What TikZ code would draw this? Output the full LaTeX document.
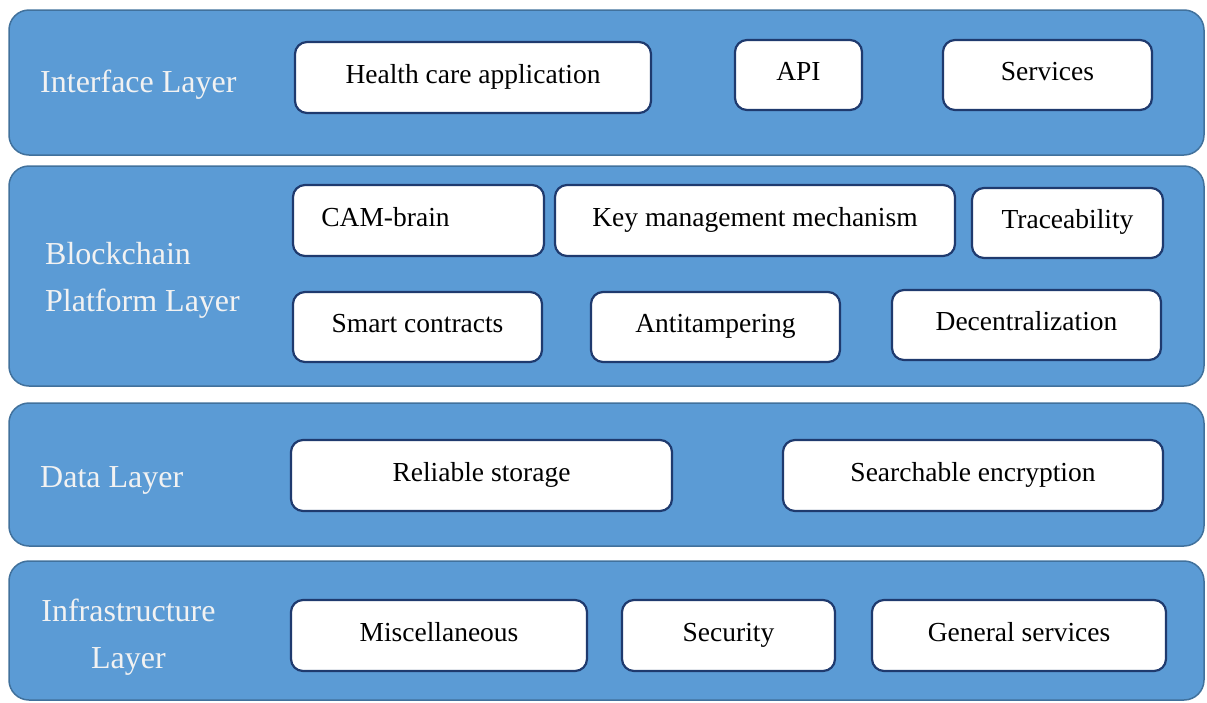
\documentclass[tikz,border=0pt]{standalone}
\usepackage{fontspec}
\setmainfont{Liberation Serif}
\usepackage{tikz}
\definecolor{layerfill}{HTML}{5B9BD5}
\definecolor{layerline}{HTML}{41719C}
\definecolor{boxline}{HTML}{1F3A6E}
\newcommand{\titlefont}{\fontsize{32}{47}\selectfont}
\newcommand{\boxfont}{\fontsize{27.5}{30}\selectfont}

\begin{document}
\begin{tikzpicture}[x=1pt,y=-1pt,
    layer/.style={draw=layerline, fill=layerfill, rounded corners=20pt, line width=1.5pt, minimum width=1195pt, inner sep=0pt},
    box/.style={draw=boxline, fill=white, rounded corners=12pt, line width=2.2pt, font=\boxfont, inner sep=0pt,
        text height=19pt, text depth=8pt},
    title/.style={text=white!95!black, font=\titlefont, inner sep=0pt}]

    \useasboundingbox (0,0) rectangle (1207,702);

    % layers
    \node[layer, minimum height=145pt] (iface) at (606.5,82.5) {};
    \node[layer, minimum height=220pt] (chain) at (606.5,276) {};
    \node[layer, minimum height=143pt] (data) at (606.5,474.5) {};
    \node[layer, minimum height=139pt] (infra) at (606.5,630.5) {};

    \node[title, anchor=west] (ifacet) at (40,85) {Interface Layer};
    \node[title, anchor=west, align=left] (chaint) at (45,280) {Blockchain\\Platform Layer};
    \node[title, anchor=west] (datat) at (40,480) {Data Layer};
    \node[title, align=center] (infrat) at (128.5,637) {Infrastructure\\Layer};

    % interface layer
    \node[box, minimum width=356pt, minimum height=71pt] (health) at (473,77.5) {Health care application};
    \node[box, minimum width=127pt, minimum height=70pt] (api) at (798.5,75) {API};
    \node[box, minimum width=209pt, minimum height=70pt] (serv) at (1047.5,75) {Services};

    % blockchain platform layer
    \node[box, minimum width=251pt, minimum height=71pt] (cam) at (418.5,220.5) {CAM-brain\kern66pt};
    \node[box, minimum width=400pt, minimum height=71pt] (key) at (755,220.5) {Key management mechanism};
    \node[box, minimum width=191pt, minimum height=70pt] (trace) at (1067.5,223) {Traceability};
    \node[box, minimum width=249pt, minimum height=70pt] (smart) at (417.5,327) {Smart contracts};
    \node[box, minimum width=249pt, minimum height=70pt] (anti) at (715.5,327) {Antitampering};
    \node[box, minimum width=269pt, minimum height=70pt] (decent) at (1026.5,325) {Decentralization};

    % data layer
    \node[box, minimum width=381pt, minimum height=71pt] (store) at (481.5,475.5) {Reliable storage};
    \node[box, minimum width=380pt, minimum height=71pt] (search) at (973,475.5) {Searchable encryption};

    % infrastructure layer
    \node[box, minimum width=296pt, minimum height=71pt] (misc) at (439,635.5) {Miscellaneous};
    \node[box, minimum width=213pt, minimum height=71pt] (sec) at (728.5,635.5) {Security};
    \node[box, minimum width=294pt, minimum height=71pt] (gen) at (1019,635.5) {General services};

\end{tikzpicture}
\end{document}
